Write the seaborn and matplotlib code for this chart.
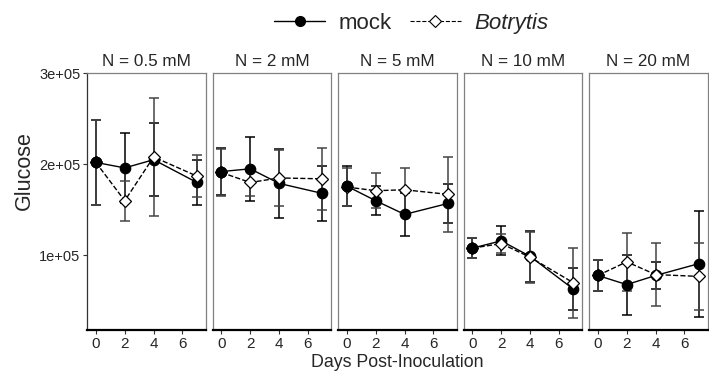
import matplotlib.pyplot as plt
import numpy as np
import pandas as pd
import seaborn as sns
from matplotlib.lines import Line2D
from matplotlib.ticker import FuncFormatter

# data (mean and half error bar)
days = [0, 2, 4, 7]
panels = ["N = 0.5 mM", "N = 2 mM", "N = 5 mM", "N = 10 mM", "N = 20 mM"]

mock_mean = [
    [2.02e5, 1.96e5, 2.05e5, 1.80e5],
    [1.92e5, 1.95e5, 1.79e5, 1.68e5],
    [1.76e5, 1.60e5, 1.45e5, 1.57e5],
    [1.08e5, 1.16e5, 0.99e5, 0.63e5],
    [0.78e5, 0.68e5, 0.78e5, 0.91e5],
]
mock_err = [
    [0.47e5, 0.38e5, 0.40e5, 0.25e5],
    [0.26e5, 0.35e5, 0.38e5, 0.30e5],
    [0.22e5, 0.16e5, 0.24e5, 0.21e5],
    [0.11e5, 0.16e5, 0.28e5, 0.23e5],
    [0.17e5, 0.33e5, 0.145e5, 0.58e5],
]
botrytis_mean = [
    [2.02e5, 1.60e5, 2.08e5, 1.87e5],
    [1.91e5, 1.80e5, 1.85e5, 1.84e5],
    [1.75e5, 1.71e5, 1.72e5, 1.67e5],
    [1.08e5, 1.13e5, 0.98e5, 0.70e5],
    [0.78e5, 0.93e5, 0.79e5, 0.77e5],
]
botrytis_err = [
    [0.47e5, 0.22e5, 0.65e5, 0.23e5],
    [0.26e5, 0.15e5, 0.31e5, 0.34e5],
    [0.21e5, 0.19e5, 0.24e5, 0.41e5],
    [0.11e5, 0.10e5, 0.28e5, 0.385e5],
    [0.17e5, 0.32e5, 0.345e5, 0.37e5],
]

rows = []
for i, p in enumerate(panels):
    for j, d in enumerate(days):
        rows.append((p, d, "mock", mock_mean[i][j], mock_err[i][j]))
        rows.append((p, d, "Botrytis", botrytis_mean[i][j], botrytis_err[i][j]))
df = pd.DataFrame(rows, columns=["panel", "day", "treatment", "glucose", "se"])

sns.set_theme(style="white")
plt.rcParams["font.family"] = ["Liberation Sans", "DejaVu Sans"]

fig, axes = plt.subplots(1, 5, figsize=(7.09, 3.71), dpi=100, sharey=True)
fig.subplots_adjust(left=0.123, right=0.998, top=0.803, bottom=0.11, wspace=0.06)

styles = {
    "mock": dict(ls="-", marker="o", ms=7.5, mfc="black", ecol="black", z=3),
    "Botrytis": dict(ls="--", marker="D", ms=6.5, mfc="white", ecol="#444444", z=4),
}

for ax, p in zip(axes, panels):
    sub = df[df["panel"] == p]
    for trt in ["mock", "Botrytis"]:
        s = styles[trt]
        d = sub[sub["treatment"] == trt]
        ax.errorbar(d["day"], d["glucose"], yerr=d["se"], fmt="none",
                    ecolor=s["ecol"], elinewidth=1.1, capsize=3.5, capthick=1.1, zorder=2)
        sns.lineplot(data=d, x="day", y="glucose", ax=ax, color="black",
                     linestyle=s["ls"], linewidth=1, marker=s["marker"],
                     markersize=s["ms"], markerfacecolor=s["mfc"], markeredgecolor="black",
                     markeredgewidth=0.9, zorder=s["z"], legend=False)
    # day-0 mock point sits on top of the shared starting point
    d0 = sub[(sub["treatment"] == "mock") & (sub["day"] == 0)]
    ax.plot(d0["day"], d0["glucose"], ls="none", marker="o", ms=7.5,
            mfc="black", mec="black", mew=0.9, zorder=6)
    ax.set_title(p, fontsize=12.3, pad=5)
    ax.set_xlim(-0.6, 7.6)
    ax.set_xticks([0, 2, 4, 6])
    ax.set_xlabel("")
    ax.set_ylabel("")
    for side in ["top", "left", "right"]:
        ax.spines[side].set_color("#808080")
        ax.spines[side].set_linewidth(0.9)
    ax.spines["bottom"].set_color("black")
    ax.spines["bottom"].set_linewidth(1.6)
    ax.tick_params(axis="x", length=3, width=0.8, color="#333333", labelsize=11, pad=2, bottom=True)
    ax.tick_params(axis="y", length=3, width=0.8, color="#333333", labelsize=10.5, pad=2, left=True)

axes[0].spines["left"].set_color("#333333")
axes[0].set_ylim(18000, 300000)
axes[0].set_yticks([1e5, 2e5, 3e5])
axes[0].yaxis.set_major_formatter(FuncFormatter(lambda v, pos: f"{v:.0e}"))
for ax in axes[1:]:
    ax.tick_params(axis="y", left=False)

fig.supxlabel("Days Post-Inoculation", x=0.561, y=0.0, fontsize=12.8)
fig.supylabel("Glucose", x=0.02, y=0.54, fontsize=15.5)

handles = [
    Line2D([], [], color="black", ls="-", lw=1, marker="o", markersize=7, mfc="black", mec="black"),
    Line2D([], [], color="black", ls="--", lw=0.8, marker="D", markersize=6, mfc="white", mec="black", mew=0.8),
]
leg = fig.legend(handles, ["mock", "Botrytis"], loc="upper center", bbox_to_anchor=(0.58, 1.02),
                 ncol=2, frameon=False, fontsize=16, handlelength=2.3, columnspacing=0.8, handletextpad=0.6)
leg.get_texts()[1].set_fontstyle("italic")

fig.savefig("out.png", dpi=100)
